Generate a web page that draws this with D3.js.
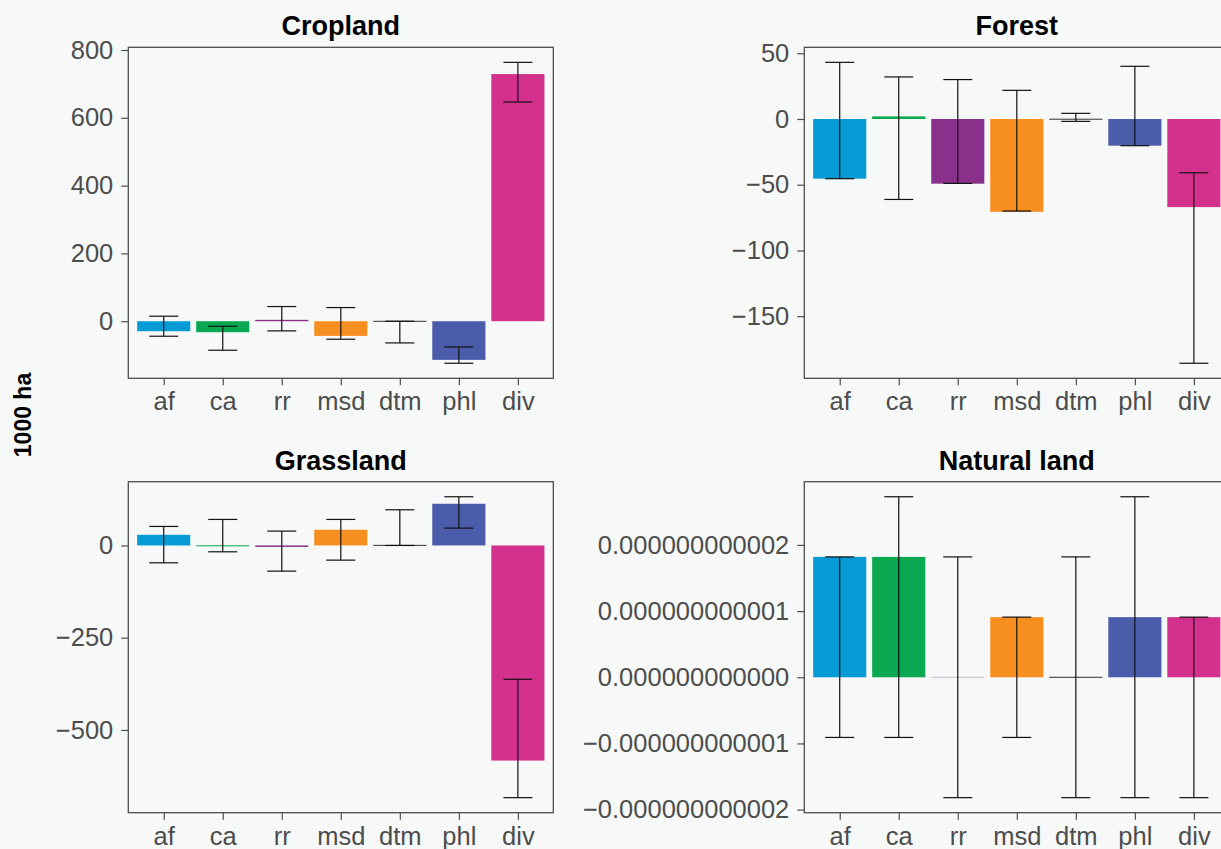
<!DOCTYPE html>
<html>
<head>
<meta charset="utf-8">
<script src="https://cdn.jsdelivr.net/npm/d3@7"></script>
<style>
html,body{margin:0;padding:0;background:#f7f9f8;}
svg{display:block;font-family:"Liberation Sans",Arial,Helvetica,sans-serif;}
</style>
</head>
<body>
<svg id="chart" width="1221" height="849"></svg>
<script>
// ---- data ----
const categories = ["af","ca","rr","msd","dtm","phl","div"];
const colors = ["#069bd4","#0aa851","#88308a","#f68f20","#2e2e2e","#4b5daa","#d4308e"];

const panelTitles = ["Cropland","Forest","Grassland","Natural land"];

const croplandValues = [-29.5, -32.5, 4, -43.3, -0.5, -114, 729];
const croplandLower  = [-44.3, -85.6, -28.5, -53.1, -64, -124, 646.5];
const croplandUpper  = [14.8, -14.8, 43.3, 40.3, 0, -75.8, 763.6];
const croplandTicks  = [0, 200, 400, 600, 800];

const forestValues = [-45.4, 2, -49.2, -70.6, -0.3, -20.3, -67];
const forestLower  = [-45.4, -61.2, -49, -70, -1.8, -20.3, -185.8];
const forestUpper  = [43.1, 32, 30, 21.8, 4.3, 40.1, -40.9];
const forestTicks  = [-150, -100, -50, 0, 50];

const grassValues = [28.9, -1.8, -4, 42.5, 0.5, 113, -583];
const grassLower  = [-47, -17.2, -69.6, -39.8, 0, 47, -683.5];
const grassUpper  = [51.5, 70.5, 38.9, 70.5, 96.7, 132, -362.6];
const grassTicks  = [-500, -250, 0];

const naturalValues = [1.819e-12, 1.819e-12, 0, 0.909e-12, 0, 0.909e-12, 0.909e-12];
const naturalLower  = [-0.909e-12, -0.909e-12, -1.819e-12, -0.909e-12, -1.819e-12, -1.819e-12, -1.819e-12];
const naturalUpper  = [1.819e-12, 2.728e-12, 1.819e-12, 0.909e-12, 1.819e-12, 2.728e-12, 0.909e-12];
const naturalTicks  = [-2e-12, -1e-12, 0, 1e-12, 2e-12];

const yAxisLabel = "1000 ha";

// ---- layout ----
const panels = [
  {title: panelTitles[0], v: croplandValues, lo: croplandLower, hi: croplandUpper, ticks: croplandTicks, fmt: d3.format("d"), x: 128.3, y: 47.3},
  {title: panelTitles[1], v: forestValues, lo: forestLower, hi: forestUpper, ticks: forestTicks, fmt: d3.format("d"), x: 804.3, y: 47.3},
  {title: panelTitles[2], v: grassValues, lo: grassLower, hi: grassUpper, ticks: grassTicks, fmt: d3.format("d"), x: 128.3, y: 481.7},
  {title: panelTitles[3], v: naturalValues, lo: naturalLower, hi: naturalUpper, ticks: naturalTicks, fmt: d3.format(".12f"), x: 804.3, y: 481.7}
];
const PW = 425, PH = 331;
const axisColor = "#4d4d4d";

const svg = d3.select("#chart");
svg.append("rect").attr("width",1221).attr("height",849).attr("fill","#f7f9f8");

panels.forEach(p => {
  const g = svg.append("g").attr("transform", `translate(${p.x},${p.y})`);
  const allVals = p.v.concat(p.lo, p.hi, [0]);
  const mn = d3.min(allVals), mx = d3.max(allVals);
  const pad = (mx - mn) * 0.05;
  const y = d3.scaleLinear().domain([mn - pad, mx + pad]).range([PH, 0]);
  const x = d3.scalePoint().domain(categories).range([0, PW]).padding(0.6);
  const bw = x.step() * 0.9;
  const cap = 14.5;

  // bars
  g.selectAll("rect.bar").data(categories).enter().append("rect")
    .attr("class","bar")
    .attr("x", d => x(d) - bw/2)
    .attr("y", (d,i) => {
      const a = y(Math.max(p.v[i],0)), b = y(Math.min(p.v[i],0));
      return (b - a) < 1 ? (a + b)/2 - 0.5 : a;
    })
    .attr("height", (d,i) => Math.max(1, y(Math.min(p.v[i],0)) - y(Math.max(p.v[i],0))))
    .attr("width", bw)
    .attr("fill", (d,i) => colors[i])
    .attr("fill-opacity", (d,i) => p.v[i] === 0 && i !== 4 ? 0.35 : 1);

  // error bars
  const eb = g.selectAll("g.err").data(categories).enter().append("g").attr("class","err")
    .attr("stroke","#111").attr("stroke-width",1.2).attr("fill","none");
  eb.append("line").attr("x1", d => x(d)).attr("x2", d => x(d))
    .attr("y1", (d,i) => y(p.hi[i])).attr("y2", (d,i) => y(p.lo[i]));
  eb.append("line").attr("x1", d => x(d) - cap).attr("x2", d => x(d) + cap)
    .attr("y1", (d,i) => y(p.hi[i])).attr("y2", (d,i) => y(p.hi[i]));
  eb.append("line").attr("x1", d => x(d) - cap).attr("x2", d => x(d) + cap)
    .attr("y1", (d,i) => y(p.lo[i])).attr("y2", (d,i) => y(p.lo[i]));

  // box
  g.append("rect").attr("x",0).attr("y",0).attr("width",PW).attr("height",PH)
    .attr("fill","none").attr("stroke",axisColor).attr("stroke-width",1.3);

  // y axis
  const ya = g.append("g").call(d3.axisLeft(y).tickValues(p.ticks).tickFormat(p.fmt).tickSize(7).tickPadding(8));
  ya.select(".domain").remove();
  ya.selectAll(".tick line").attr("stroke",axisColor).attr("stroke-width",1.2);
  ya.selectAll(".tick text").attr("fill",axisColor).style("font-size","25.5px");

  // x axis
  const xa = g.append("g").attr("transform",`translate(0,${PH})`)
    .call(d3.axisBottom(x).tickSize(7).tickPadding(7));
  xa.select(".domain").remove();
  xa.selectAll(".tick line").attr("stroke",axisColor).attr("stroke-width",1.2);
  xa.selectAll(".tick text").attr("fill",axisColor).style("font-size","25.5px");

  // title
  g.append("text").attr("x", PW/2).attr("y", -12).attr("text-anchor","middle")
    .style("font-size","27px").style("font-weight","bold").attr("fill","#000").text(p.title);
});

svg.append("text").attr("transform","translate(31,415) rotate(-90)")
  .attr("text-anchor","middle").style("font-size","23px").style("font-weight","bold")
  .attr("fill","#000").text(yAxisLabel);
</script>
</body>
</html>
